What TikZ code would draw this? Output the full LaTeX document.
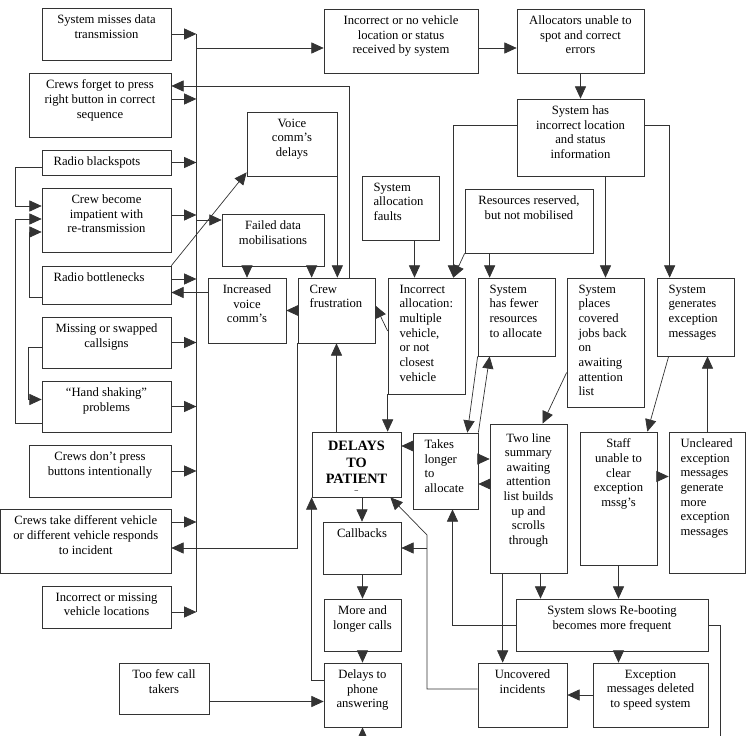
\documentclass[tikz,border=0pt]{standalone}
\usepackage{fontspec}
\setmainfont{Liberation Serif}
\usetikzlibrary{arrows.meta,positioning,fit,calc}

\begin{document}
\begin{tikzpicture}[x=0.03cm, y=-0.03cm,
  cbox/.style={draw=black!80, line width=0.6pt, inner sep=0pt},
  txt/.style={anchor=north, align=center, inner sep=0pt, yshift=-6pt},
  txtl/.style={anchor=north west, align=left, inner sep=0pt, xshift=10pt, yshift=-6pt},
  ln/.style={draw=black!80, line width=0.6pt},
  arr/.style={ln, -{Triangle[length=10.5pt,width=9.5pt]}},
  font=\fontsize{10.8}{12.5}\selectfont
]
  \useasboundingbox (0,0) rectangle (746,736);

  % causes on the left
  \node[cbox, fit={(42,8) (171,60)}]    (smd) {};
  \node[txt] (smd-t) at (smd.north) {System misses data\\transmission};
  \node[cbox, fit={(29,73) (171,137)}]  (cfp) {};
  \node[txt] (cfp-t) at (cfp.north) {Crews forget to press\\right button in correct\\sequence};
  \node[cbox, fit={(42,150) (171,175)}] (rbs) {};
  \node[txtl] (rbs-t) at (rbs.north west) {Radio blackspots};
  \node[cbox, fit={(42,188) (171,252)}] (cbi) {};
  \node[txt] (cbi-t) at (cbi.north) {Crew become\\impatient with\\re-transmission};
  \node[cbox, fit={(42,266) (171,304)}] (rbn) {};
  \node[txtl] (rbn-t) at (rbn.north west) {Radio bottlenecks};
  \node[cbox, fit={(42,317) (171,368)}] (msc) {};
  \node[txt] (msc-t) at (msc.north) {Missing or swapped\\callsigns};
  \node[cbox, fit={(42,381) (171,432)}] (hsp) {};
  \node[txt] (hsp-t) at (hsp.north) {“Hand shaking”\\problems};
  \node[cbox, fit={(29,445) (171,497)}] (cdp) {};
  \node[txt] (cdp-t) at (cdp.north) {Crews don’t press\\buttons intentionally};
  \node[cbox, fit={(0.5,509) (171,573)}] (ctd) {};
  \node[txt] (ctd-t) at (ctd.north) {Crews take different vehicle\\or different vehicle responds\\to incident};
  \node[cbox, fit={(42,586) (171,628)}] (imv) {};
  \node[txt] (imv-t) at (imv.north) {Incorrect or missing\\vehicle locations};
  \node[cbox, fit={(119,663) (209,714)}] (tfc) {};
  \node[txt] (tfc-t) at (tfc.north) {Too few call\\takers};

  % middle column
  \node[cbox, fit={(247,112) (337,176)}] (vcd) {};
  \node[txt] (vcd-t) at (vcd.north) {Voice\\comm’s\\delays};
  \node[cbox, fit={(222,214) (324,266)}] (fdm) {};
  \node[txt] (fdm-t) at (fdm.north) {Failed data\\mobilisations};
  \node[cbox, fit={(208,278) (286,343)}] (ivc) {};
  \node[txt] (ivc-t) at (ivc.north) {Increased\\voice\\comm’s};
  \node[cbox, fit={(298,278) (375,343)}] (cfr) {};
  \node[txtl] (cfr-t) at (cfr.north west) {Crew\\frustration};
  \node[cbox, fit={(362,176) (439,240)}] (saf) {};
  \node[txtl] (saf-t) at (saf.north west) {System\\allocation\\faults};
  \node[cbox, fit={(388,278) (465,394)}] (ial) {};
  \node[txtl] (ial-t) at (ial.north west) {Incorrect\\allocation:\\multiple\\vehicle,\\or not\\closest\\vehicle};

  % top right
  \node[cbox, fit={(324,9) (478,73)}]   (inv) {};
  \node[txt] (inv-t) at (inv.north) {Incorrect or no vehicle\\location or status\\received by system};
  \node[cbox, fit={(517,9) (644,73)}]   (auc) {};
  \node[txt] (auc-t) at (auc.north) {Allocators unable to\\spot and correct\\errors};
  \node[cbox, fit={(517,99) (644,176)}] (shi) {};
  \node[txt] (shi-t) at (shi.north) {System has\\incorrect location\\and status\\information};
  \node[cbox, fit={(465,189) (593,253)}] (rrm) {};
  \node[txt] (rrm-t) at (rrm.north) {Resources reserved,\\but not mobilised};
  \node[cbox, fit={(478,278) (555,356)}] (sfr) {};
  \node[txtl] (sfr-t) at (sfr.north west) {System\\has fewer\\resources\\to allocate};
  \node[cbox, fit={(567,278) (644,407)}] (spc) {};
  \node[txtl] (spc-t) at (spc.north west) {System\\places\\covered\\jobs back\\on\\awaiting\\attention\\list};
  \node[cbox, fit={(657,278) (734,356)}] (sge) {};
  \node[txtl] (sge-t) at (sge.north west) {System\\generates\\exception\\messages};

  % lower part
  \node[cbox, fit={(312,432) (401,497)}] (dtp) {};
  \node[txt, yshift=-2pt, font=\fontsize{12.2}{14.2}\selectfont\bfseries] (dtp-t) at (dtp.north)
    {DELAYS\\TO\\PATIENT\\[-7pt]{\fontsize{6}{6}\selectfont –}};
  \node[cbox, fit={(413,433) (478,509)}] (tla) {};
  \node[txtl] (tla-t) at (tla.north west) {Takes\\longer\\to\\allocate};
  \node[cbox, fit={(490,424) (567,573)}] (tls) {};
  \node[txt, yshift=-2pt] (tls-t) at (tls.north) {Two line\\summary\\awaiting\\attention\\list builds\\up and\\scrolls\\through};
  \node[cbox, fit={(580,432) (657,565)}] (sue) {};
  \node[txt] (sue-t) at (sue.north) {Staff\\unable to\\clear\\exception\\mssg’s};
  \node[cbox, fit={(669,432) (745.5,573)}] (uem) {};
  \node[txtl] (uem-t) at (uem.north west) {Uncleared\\exception\\messages\\generate\\more\\exception\\messages};
  \node[cbox, fit={(323,522) (401,574)}] (cbk) {};
  \node[txt] (cbk-t) at (cbk.north) {Callbacks};
  \node[cbox, fit={(324,599) (401,651)}] (mlc) {};
  \node[txt] (mlc-t) at (mlc.north) {More and\\longer calls};
  \node[cbox, fit={(324,663) (401,727)}] (dpa) {};
  \node[txt] (dpa-t) at (dpa.north) {Delays to\\phone\\answering};
  \node[cbox, fit={(516,599) (708,651)}] (ssr) {};
  \node[txt] (ssr-t) at (ssr.north) {System slows Re-booting\\becomes more frequent};
  \node[cbox, fit={(478,663) (567,727)}] (unc) {};
  \node[txt] (unc-t) at (unc.north) {Uncovered\\incidents};
  \node[cbox, fit={(593,663) (708,727)}] (emd) {};
  \node[txt] (emd-t) at (emd.north) {Exception\\messages deleted\\to speed system};

  % collecting line
  \coordinate (bust) at (196,34);
  \coordinate (busb) at (196,612);
  \coordinate (bus1) at (196,48);
  \coordinate (bus2) at (196,220);
  \draw[ln] (bust) -- (busb);
  \foreach \b/\dy in {smd/0, cfp/-6, rbs/0, cbi/-5, rbn/-6, msc/0, hsp/0, cdp/0, ctd/-19, imv/5}
    \draw[arr] ([shift={(0,\dy)}]\b.east) -- ++(25,0);
  \draw[arr] (bus1) -- (bus1 -| inv.west);
  \draw[arr] (bus2) -- (bus2 -| fdm.west);

  % loops on the far left
  \draw[arr] ([shift={(0,5)}]rbs.west) -- ++(-26,0) |- ([shift={(0,-14)}]cbi.west);
  \draw[arr] ([shift={(0,17)}]hsp.west) -- ++(-26,0) |- ([shift={(0,-1)}]cbi.west);
  \draw[arr] ([shift={(0,12)}]rbn.west) -- ++(-12,0) |- ([shift={(0,12)}]cbi.west);
  \draw[arr] ([shift={(0,5)}]msc.west) -- ++(-13,0) |- ([shift={(0,-7)}]hsp.west);

  % top chain
  \draw[arr] ([shift={(0,7)}]inv.east) -- ([shift={(0,7)}]auc.west);
  \draw[arr] (auc.south) -- (shi.north);
  \draw[arr] ([shift={(0,-12)}]shi.west) -| ([shift={(-12,0)}]ial.north east);
  \draw[arr] ([shift={(0,-12)}]shi.east) -| ([shift={(13,0)}]sge.north west);
  \draw[arr] (spc.north |- shi.south) -- (spc.north);
  \coordinate (c1) at ([shift={(12,0)}]sfr.north west);
  \draw[arr] (c1 |- rrm.south) -- (c1);
  \draw[arr] (rrm.south west) -- ([shift={(-12,0)}]ial.north east);
  \coordinate (c2) at ([shift={(14,0)}]saf.south);
  \draw[arr] (c2) -- (c2 |- ial.north);

  % crew frustration
  \draw[arr] ([shift={(0,-5)}]ial.west) -- ([shift={(0,-5)}]cfr.east);
  \draw[arr] (cfr.west) -- (ivc.east);
  \coordinate (c3) at ([shift={(0,-18)}]ivc.west);
  \draw[arr] (c3) -- (c3 -| rbn.east);
  \draw[arr] (ivc.north |- fdm.south) -- (ivc.north);
  \coordinate (c4) at ([shift={(14,0)}]cfr.north west);
  \draw[arr] (c4 |- fdm.south) -- (c4);
  \draw[arr] (vcd.south east) -- (vcd.south east |- cfr.north);
  \draw[arr] ([shift={(52,0)}]cfr.north west) |- ([shift={(0,-19)}]cfp.east);
  \draw[arr] (cfr.south west) |- ([shift={(0,7)}]ctd.east);
  \draw[arr] (rbn.north east) -- ([shift={(0,-4)}]vcd.south west);

  % delays to patient
  \draw[arr] (ial.south west) -- (ial.south west |- dtp.north);
  \draw[arr] (cfr.south |- dtp.north) -- (cfr.south);
  \draw[arr] (cbk.north |- dtp.south) -- (cbk.north);
  \draw[arr] (mlc.north |- cbk.south) -- (mlc.north);
  \draw[arr] (mlc.south) -- (dpa.north);
  \draw[arr] ([shift={(0,-15)}]dpa.west) -| (dtp.south west);
  \coordinate (c5) at ([shift={(0,13)}]tfc.east);
  \draw[arr] (c5) -- (c5 -| dpa.west);
  \coordinate (offb) at (0,736);
  \draw[arr] (dpa.south |- offb) -- (dpa.south);
  \coordinate (c6) at ([shift={(0,-25)}]tla.west);
  \draw[arr] (c6) -- (c6 -| dtp.east);

  % allocation loop
  \draw[arr] (sfr.south west) -- ([shift={(-11,0)}]tla.north east);
  \draw[arr] (tla.north east) -- ([shift={(12,0)}]sfr.south west);
  \coordinate (c7) at ([shift={(0,-12)}]tla.east);
  \draw[arr] (c7) -- (c7 -| tls.west);
  \coordinate (c8) at ([shift={(0,13)}]tla.east);
  \draw[arr] (c8 -| tls.west) -- (c8);
  \draw[arr] ([shift={(0,30)}]spc.west) -- ([shift={(14,0)}]tls.north);

  % exception messages
  \draw[arr] ([shift={(12,0)}]sge.south west) -- ([shift={(-10,0)}]sue.north east);
  \coordinate (c9) at ([shift={(0,-22)}]sue.east);
  \draw[arr] (c9) -- (c9 -| uem.west);
  \coordinate (c10) at ([shift={(12,0)}]sge.south);
  \draw[arr] (c10 |- uem.north) -- (c10);

  % system slows
  \coordinate (c11) at ([shift={(12,0)}]tls.south);
  \draw[arr] (c11) -- (c11 |- ssr.north);
  \draw[arr] (sue.south) -- (sue.south |- ssr.north);
  \coordinate (c12) at ([shift={(13,0)}]tls.south west);
  \draw[arr] (c12) -- (c12 |- unc.north);
  \draw[arr] (ssr.west) -| ([shift={(7,0)}]tla.south);
  \draw[arr] (sue.south |- ssr.south) -- (sue.south |- emd.north);
  \draw[arr] (emd.west) -- (unc.east);
  \coordinate (offr) at (720,736);
  \draw[ln] (ssr.east) -| (offr);

  % uncovered incidents
  \coordinate (bend) at (427,535);
  \draw[arr] ([shift={(0,-6)}]unc.west) -| (bend) -- ([shift={(-11,0)}]dtp.south east);
  \draw[arr] (bend |- cbk.east) -- (cbk.east);
\end{tikzpicture}
\end{document}
